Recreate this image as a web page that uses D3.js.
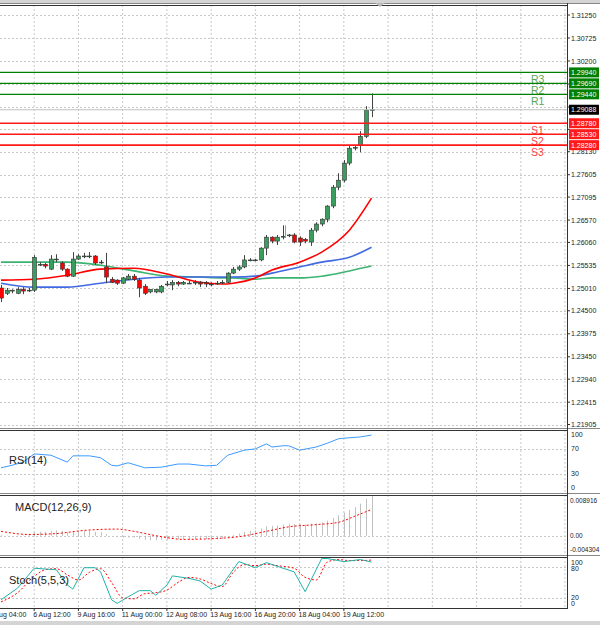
<!DOCTYPE html>
<html>
<head>
<meta charset="utf-8">
<script src="https://cdn.jsdelivr.net/npm/d3@7"></script>
<style>
  body { margin: 0; background: #fff; }
  svg { display: block; font-family: "Liberation Sans", Arial, sans-serif; }
</style>
</head>
<body>
<svg width="600" height="625"></svg>
<script>
// 4H candles
const opens  = [1.2502,1.2490,1.2495,1.2490,1.2499,1.2497,1.2497,1.2556,1.2556,1.2545,1.2568,1.2559,1.2545,1.2529,1.2568,1.2575,1.2575,1.2575,1.2561,1.2550,1.2522,1.2520,1.2513,1.2522,1.2529,1.2520,1.2506,1.2493,1.2493,1.2493,1.2511,1.2509,1.2515,1.2511,1.2513,1.2515,1.2515,1.2515,1.2511,1.2513,1.2515,1.2515,1.2536,1.2545,1.2550,1.2566,1.2566,1.2566,1.2593,1.2618,1.2609,1.2618,1.2623,1.2623,1.2616,1.2613,1.2607,1.2634,1.2648,1.2659,1.2689,1.2732,1.2748,1.2787,1.2821,1.2828,1.2848,1.2908];
const highs  = [1.2509,1.2502,1.2499,1.2504,1.2504,1.2502,1.2577,1.2561,1.2559,1.2577,1.2579,1.2563,1.2547,1.2584,1.2579,1.2582,1.2584,1.2577,1.2566,1.2582,1.2527,1.2522,1.2527,1.2534,1.2534,1.2525,1.2511,1.2499,1.2499,1.2509,1.2518,1.2520,1.2518,1.2518,1.2518,1.2520,1.2518,1.2518,1.2515,1.2518,1.2520,1.2538,1.2550,1.2554,1.2577,1.2570,1.2568,1.2595,1.2623,1.2620,1.2623,1.2645,1.2625,1.2627,1.2620,1.2616,1.2639,1.2652,1.2661,1.2691,1.2737,1.2764,1.2794,1.2828,1.2828,1.2860,1.2917,1.2946];
const lows   = [1.2470,1.2486,1.2490,1.2488,1.2488,1.2493,1.2493,1.2552,1.2547,1.2543,1.2561,1.2541,1.2527,1.2527,1.2566,1.2570,1.2570,1.2554,1.2556,1.2513,1.2513,1.2509,1.2511,1.2520,1.2518,1.2481,1.2486,1.2490,1.2490,1.2490,1.2506,1.2497,1.2506,1.2509,1.2511,1.2509,1.2504,1.2504,1.2506,1.2509,1.2511,1.2513,1.2534,1.2541,1.2547,1.2563,1.2563,1.2563,1.2577,1.2604,1.2600,1.2613,1.2618,1.2604,1.2598,1.2604,1.2598,1.2629,1.2643,1.2652,1.2684,1.2725,1.2743,1.2782,1.2816,1.2812,1.2844,1.2892];
const closes = [1.2479,1.2497,1.2497,1.2499,1.2495,1.2497,1.2572,1.2556,1.2552,1.2568,1.2568,1.2545,1.2529,1.2568,1.2575,1.2575,1.2575,1.2559,1.2561,1.2527,1.2515,1.2513,1.2525,1.2529,1.2522,1.2502,1.2490,1.2499,1.2499,1.2506,1.2511,1.2515,1.2511,1.2515,1.2513,1.2515,1.2511,1.2511,1.2511,1.2513,1.2515,1.2536,1.2545,1.2550,1.2566,1.2566,1.2566,1.2593,1.2618,1.2609,1.2618,1.2620,1.2623,1.2607,1.2607,1.2609,1.2634,1.2648,1.2659,1.2689,1.2732,1.2748,1.2787,1.2821,1.2823,1.2848,1.2908,1.2909];

// moving averages, sampled at these bars
const maBars  = [0,6,12,18,24,30,36,40,42,46,49,54,58,63,67];
const maRed   = [1.2520,1.2522,1.2531,1.2545,1.2547,1.2534,1.2515,1.2511,1.2513,1.2525,1.2543,1.2561,1.2584,1.2634,1.2707];
const maBlue  = [1.2513,1.2504,1.2504,1.2513,1.2522,1.2527,1.2527,1.2527,1.2527,1.2529,1.2536,1.2550,1.2561,1.2572,1.2595];
const maGreen = [1.2561,1.2561,1.2561,1.2554,1.2541,1.2529,1.2527,1.2525,1.2525,1.2522,1.2525,1.2525,1.2529,1.2541,1.2552];

// marker arrow
const markBar = 51, markTop = 1.2645, markBottom = 1.2616;

// pivot levels
const levelNames  = ["R3","R2","R1","S1","S2","S3"];
const levelValues = [1.2994,1.2969,1.2944,1.2878,1.2853,1.2828];
const levelLabels = ["1.29940","1.29690","1.29440","1.28780","1.28530","1.28280"];
const lastPrice = 1.29088, lastLabel = "1.29088";

const priceTicks = [1.31250,1.30725,1.30200,1.29675,1.29150,1.28640,1.28130,1.27605,1.27095,1.26570,1.26060,1.25535,1.25010,1.24500,1.23975,1.23450,1.22940,1.22415,1.21905];
const priceTickLabels = ["1.31250","1.30725","1.30200","","","","1.28130","1.27605","1.27095","1.26570","1.26060","1.25535","1.25010","1.24500","1.23975","1.23450","1.22940","1.22415","1.21905"];

const dateBars   = [-2,6,14,22,30,38,46,54,62];
const dateLabels = ["5 Aug 04:00","6 Aug 12:00","9 Aug 16:00","11 Aug 00:00","12 Aug 08:00","13 Aug 16:00","16 Aug 20:00","18 Aug 04:00","19 Aug 12:00"];

// RSI(14)
const rsiBars   = [0,2,4,6,9,12,13,16,18,20,21,23,26,29,32,34,37,39,41,44,46,48,49,51,52,54,57,59,61,62,65,67];
const rsiValues = [40,44,49,62,60,49,59,59,56,44,43,48,40,41,46,46,43,44,60,68,70,78,73,75,75,68,73,79,86,87,89,92];

// MACD(12,26,9)
const macdHist = [0.0002,0.0001,0.0000,0.0001,0.0001,0.0002,0.0008,0.0009,0.0009,0.0011,0.0012,0.0011,0.0008,0.0010,0.0011,0.0011,0.0011,0.0009,0.0008,0.0004,0.0000,-0.0003,-0.0004,-0.0004,-0.0004,-0.0007,-0.0009,-0.0010,-0.0010,-0.0009,-0.0009,-0.0008,-0.0008,-0.0008,-0.0008,-0.0008,-0.0008,-0.0008,-0.0008,-0.0008,-0.0007,-0.0002,0.0002,0.0005,0.0009,0.0011,0.0012,0.0016,0.0021,0.0022,0.0023,0.0025,0.0027,0.0026,0.0026,0.0025,0.0027,0.0028,0.0030,0.0034,0.0040,0.0046,0.0052,0.0058,0.0064,0.0072,0.0083,0.0089];
const signalBars   = [0,5,10,15,21,24,29,33,39,43,48,52,57,61,64,67];
const signalValues = [0.0010,0.0003,0.0005,0.0012,0.0015,0.0010,-0.0002,-0.0008,-0.0006,-0.0002,0.0010,0.0020,0.0025,0.0030,0.0044,0.0059];

// Stoch(5,5,3)
const stochBars = [0,3,6,10,12,13,15,17,18,20,21,23,25,27,28,30,31,34,36,38,40,43,46,48,51,53,55,58,59,62,65,67];
const stochMain = [16,39,78,75,45,37,79,79,71,16,9,22,34,34,25,45,63,58,53,37,45,91,79,89,78,71,32,97,97,91,95,90];
const stochSigBars = [0,3,6,8,10,12,14,16,18,20,22,24,26,28,30,32,34,36,38,40,42,44,46,48,50,53,55,57,59,61,63,65,67];
const stochSig     = [12,30,62,75,77,65,55,70,77,50,20,18,28,30,35,50,60,57,48,42,70,85,83,86,83,78,60,55,90,95,93,93,94];

const svg = d3.select("svg");
const plotRight = 567;
const x = d3.scaleLinear([0, 67], [1, 371.5]);

const panels = {
  main:  { top: 5,   bottom: 428 },
  rsi:   { top: 430, bottom: 493 },
  macd:  { top: 495, bottom: 555 },
  stoch: { top: 557, bottom: 608 }
};
const y = d3.scaleLinear([1.21905, 1.31250], [424.5, 15]);
const yRsi = d3.scaleLinear([0, 100], [493, 430]);
const yMacd = d3.scaleLinear([-0.004304, 0.008916], [555, 496]);
const yStoch = d3.scaleLinear([0, 100], [608, 557]);

// background grid: vertical dotted lines every 8 bars
const gridBars = d3.range(-2, 110, 8).filter(b => x(b) > 0 && x(b) < plotRight);
Object.values(panels).forEach(p => {
  svg.append("g").selectAll("line").data(gridBars).join("line")
    .attr("x1", d => x(d)).attr("x2", d => x(d))
    .attr("y1", p.top).attr("y2", p.bottom)
    .attr("stroke", "#c8c8c8").attr("stroke-dasharray", "2 2");
});

const hGrid = (vals, sc) => svg.append("g").selectAll("line").data(vals).join("line")
  .attr("x1", 0).attr("x2", plotRight)
  .attr("y1", d => Math.round(sc(d)) + 0.5).attr("y2", d => Math.round(sc(d)) + 0.5)
  .attr("stroke", "#c8c8c8").attr("stroke-dasharray", "2 2");
hGrid(priceTicks, y);
hGrid([30, 70], yRsi);
hGrid([0], yMacd);
hGrid([20, 80], yStoch);

// panel frames
svg.append("rect").attr("x", 0).attr("y", 0).attr("width", 600).attr("height", 3).attr("fill", "#d4d4d4");
[panels.main.top, panels.rsi.top, panels.macd.top, panels.stoch.top].forEach(t => {
  svg.append("line").attr("x1", 0).attr("x2", 600).attr("y1", t - 1.5).attr("y2", t - 1.5).attr("stroke", "#888").attr("stroke-width", 1);
  svg.append("line").attr("x1", 0).attr("x2", plotRight).attr("y1", t + 0.5).attr("y2", t + 0.5).attr("stroke", "#333");
});
svg.append("line").attr("x1", 0).attr("x2", plotRight).attr("y1", 608.5).attr("y2", 608.5).attr("stroke", "#333");
svg.append("line").attr("x1", plotRight + 0.5).attr("x2", plotRight + 0.5).attr("y1", 3).attr("y2", 609).attr("stroke", "#333");
svg.append("path").attr("d", "M375,3 L385,3 L380,7 Z").attr("fill", "#bbb");

// moving averages
const maLine = vals => d3.line().x((d, i) => x(maBars[i])).y(d => y(d)).curve(d3.curveMonotoneX)(vals);
[[maGreen, "#3cb371"], [maBlue, "#4169e1"], [maRed, "#ff0000"]].forEach(([vals, c]) => {
  svg.append("path").attr("d", maLine(vals)).attr("fill", "none").attr("stroke", c).attr("stroke-width", 1.6);
});

// candles
const candles = closes.map((c, i) => ({ i, o: opens[i], h: highs[i], l: lows[i], c }));
const cg = svg.append("g").selectAll("g").data(candles).join("g");
cg.append("line")
  .attr("x1", d => Math.round(x(d.i)) + 0.5).attr("x2", d => Math.round(x(d.i)) + 0.5)
  .attr("y1", d => y(d.h)).attr("y2", d => y(d.l))
  .attr("stroke", "#444");
cg.append("rect")
  .attr("x", d => Math.round(x(d.i)) - 1.5)
  .attr("y", d => Math.min(y(d.o), y(d.c)))
  .attr("width", 4)
  .attr("height", d => Math.max(0.8, Math.abs(y(d.o) - y(d.c))))
  .attr("fill", d => d.c >= d.o ? "#3a9d5d" : "#ff0000")
  .attr("stroke", "#333").attr("stroke-width", 0.6);

svg.append("line")
  .attr("x1", x(markBar) + 2.5).attr("x2", x(markBar) + 2.5)
  .attr("y1", y(markTop)).attr("y2", y(markBottom))
  .attr("stroke", "#32e032").attr("stroke-width", 1);

// current price line
svg.append("line").attr("x1", 0).attr("x2", plotRight).attr("y1", y(lastPrice)).attr("y2", y(lastPrice)).attr("stroke", "#c0c0c0");

// pivot levels
levelValues.forEach((v, k) => {
  const isR = levelNames[k][0] === "R";
  const col = isR ? "#008000" : "#ff1a1a";
  svg.append("line").attr("x1", 0).attr("x2", plotRight).attr("y1", y(v)).attr("y2", y(v))
    .attr("stroke", col).attr("stroke-width", isR ? 1.3 : 1.6);
  svg.append("text").attr("x", 531).attr("y", y(v) + 11)
    .attr("fill", isR ? "#5aa55a" : "#ff4040").attr("font-size", 10.5)
    .text(levelNames[k]);
});

// right axis price labels
svg.append("g").selectAll("text").data(priceTicks).join("text")
  .attr("x", 571).attr("y", d => y(d) + 2.5)
  .attr("font-size", 7).attr("fill", "#222")
  .text((d, i) => priceTickLabels[i]);
svg.append("g").selectAll("line").data(priceTicks).join("line")
  .attr("x1", plotRight).attr("x2", plotRight + 3)
  .attr("y1", d => y(d)).attr("y2", d => y(d)).attr("stroke", "#333");

const tag = (v, label, col) => {
  svg.append("rect").attr("x", 569).attr("y", y(v) - 5).attr("width", 30).attr("height", 10).attr("fill", col);
  svg.append("text").attr("x", 571).attr("y", y(v) + 2.5).attr("font-size", 7).attr("fill", "#fff").text(label);
};
levelValues.forEach((v, k) => tag(v, levelLabels[k], levelNames[k][0] === "R" ? "#008000" : "#ff1a1a"));
tag(lastPrice, lastLabel, "#000");

// RSI
svg.append("path")
  .attr("d", d3.line().x((d, i) => x(rsiBars[i])).y(d => yRsi(d))(rsiValues))
  .attr("fill", "none").attr("stroke", "#3c9bff").attr("stroke-width", 1);
svg.append("text").attr("x", 9).attr("y", 464).attr("font-size", 11).attr("fill", "#222").text("RSI(14)");
[[100, 437], [70, 451], [30, 476], [0, 490]].forEach(([v, ty]) =>
  svg.append("text").attr("x", 571).attr("y", ty).attr("font-size", 7).attr("fill", "#222").text(v));

// MACD
svg.append("g").selectAll("line").data(macdHist).join("line")
  .attr("x1", (d, i) => Math.round(x(i)) + 0.5).attr("x2", (d, i) => Math.round(x(i)) + 0.5)
  .attr("y1", yMacd(0)).attr("y2", d => yMacd(d))
  .attr("stroke", "#c0c0c0");
svg.append("path")
  .attr("d", d3.line().x((d, i) => x(signalBars[i])).y(d => yMacd(d)).curve(d3.curveMonotoneX)(signalValues))
  .attr("fill", "none").attr("stroke", "#ff0000").attr("stroke-dasharray", "2 2");
svg.append("text").attr("x", 15).attr("y", 511).attr("font-size", 11).attr("fill", "#222").text("MACD(12,26,9)");
[["0.008916", 503], ["0.00", 538], ["-0.004304", 552]].forEach(([t, ty]) =>
  svg.append("text").attr("x", 570).attr("y", ty).attr("font-size", 6.5).attr("fill", "#222").text(t));

// Stochastic
svg.append("path")
  .attr("d", d3.line().x((d, i) => x(stochSigBars[i])).y(d => yStoch(d)).curve(d3.curveMonotoneX)(stochSig))
  .attr("fill", "none").attr("stroke", "#ff0000").attr("stroke-dasharray", "2 2");
svg.append("path")
  .attr("d", d3.line().x((d, i) => x(stochBars[i])).y(d => yStoch(d))(stochMain))
  .attr("fill", "none").attr("stroke", "#20b2aa").attr("stroke-width", 1);
svg.append("text").attr("x", 9).attr("y", 584).attr("font-size", 11).attr("fill", "#222").text("Stoch(5,5,3)");
[[100, 565], [80, 571], [20, 600], [0, 606]].forEach(([v, ty]) =>
  svg.append("text").attr("x", 571).attr("y", ty).attr("font-size", 7).attr("fill", "#222").text(v));

// date axis
svg.append("g").selectAll("text").data(dateBars).join("text")
  .attr("x", d => x(d) - 1).attr("y", 617)
  .attr("font-size", 7).attr("fill", "#222")
  .text((d, i) => dateLabels[i]);
svg.append("g").selectAll("line").data(dateBars).join("line")
  .attr("x1", d => x(d)).attr("x2", d => x(d)).attr("y1", 608).attr("y2", 611).attr("stroke", "#333");
svg.append("rect").attr("x", 0).attr("y", 621).attr("width", 600).attr("height", 4).attr("fill", "#d4d4d4");
</script>
</body>
</html>
